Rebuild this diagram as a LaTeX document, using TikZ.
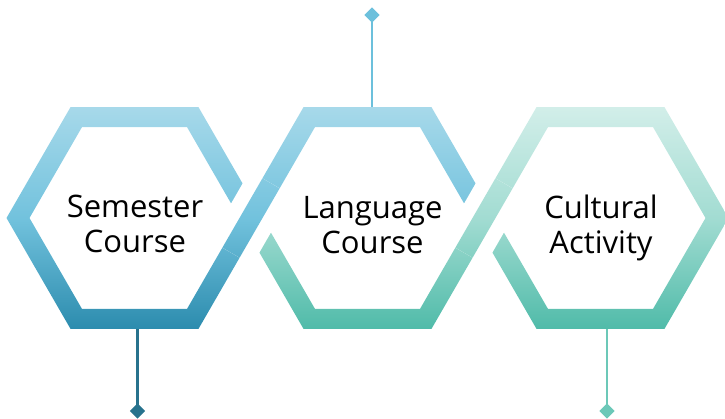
\documentclass[tikz,border=0pt]{standalone}
\usepackage{fontspec}
\setmainfont{Open Sans}
\usetikzlibrary{shapes.geometric}
\definecolor{bluetop}{HTML}{A7D9EA}
\definecolor{bluemid}{HTML}{72C2DD}
\definecolor{bluebot}{HTML}{2C8CAE}
\definecolor{tealtop}{HTML}{D2EEE9}
\definecolor{tealmid}{HTML}{A2DCD2}
\definecolor{tealbot}{HTML}{50BBA9}
\definecolor{lineTop}{HTML}{6CC0DC}
\definecolor{lineLeft}{HTML}{27728D}
\definecolor{lineRight}{HTML}{6CC8B8}
\begin{document}
\begin{tikzpicture}[x=1pt,y=-1pt,
  ringblue/.style={even odd rule, top color=bluetop, bottom color=bluebot, middle color=bluemid},
  ringteal/.style={even odd rule, top color=tealtop, bottom color=tealbot, middle color=tealmid},
  conn/.style={line width=2.7pt},
  dia/.style={diamond, aspect=1, minimum width=15.5pt, minimum height=15.5pt, inner sep=0pt, draw=none},
  lbl/.style={font=\fontsize{31}{35}\selectfont, align=center, inner sep=0pt, text=black}]
\useasboundingbox (0,0) rectangle (725,418);
\clip (0,0) rectangle (725,418);
% centres and crossings
\coordinate (c1) at (134.5,218);
\coordinate (c2) at (367.5,218);
\coordinate (c3) at (600.5,218);
\coordinate (x1) at (251,218);
\coordinate (x2) at (484,218);
% connectors with diamonds
\coordinate (h2top) at (372,116);
\coordinate (h1bot) at (137.5,320);
\coordinate (h3bot) at (607,320);
\node[dia, fill=lineTop] (d2) at (372,15) {};
\node[dia, fill=lineLeft] (d1) at (137.5,411) {};
\node[dia, fill=lineRight] (d3) at (607,411) {};
\draw[conn, draw=lineTop] (h2top) -- (d2.center);
\draw[conn, draw=lineLeft] (h1bot) -- (d1.center);
\draw[conn, draw=lineRight] (h3bot) -- (d3.center);
% rings
\shade[ringblue, shift={(c1)}] (0:128) -- (60:128) -- (120:128) -- (180:128) -- (240:128) -- (300:128) -- cycle
  (0:105) -- (60:105) -- (120:105) -- (180:105) -- (240:105) -- (300:105) -- cycle;
\begin{scope}
  \clip (0,0) rectangle (725,218);
  \shade[ringblue, shift={(c2)}] (0:128) -- (60:128) -- (120:128) -- (180:128) -- (240:128) -- (300:128) -- cycle
    (0:105) -- (60:105) -- (120:105) -- (180:105) -- (240:105) -- (300:105) -- cycle;
\end{scope}
\begin{scope}
  \clip (0,218) rectangle (725,418);
  \shade[ringteal, shift={(c2)}] (0:128) -- (60:128) -- (120:128) -- (180:128) -- (240:128) -- (300:128) -- cycle
    (0:105) -- (60:105) -- (120:105) -- (180:105) -- (240:105) -- (300:105) -- cycle;
\end{scope}
\shade[ringteal, shift={(c3)}] (0:128) -- (60:128) -- (120:128) -- (180:128) -- (240:128) -- (300:128) -- cycle
  (0:105) -- (60:105) -- (120:105) -- (180:105) -- (240:105) -- (300:105) -- cycle;
% gaps at the crossings
\fill[white, shift={(x1)}] (41.22,-22.39) -- (-1.22,-46.89) -- (-41.22,22.39) -- (1.22,46.89) -- cycle;
\fill[white, shift={(x2)}] (41.22,-22.39) -- (-1.22,-46.89) -- (-41.22,22.39) -- (1.22,46.89) -- cycle;
% over-bands
\begin{scope}[shift={(x1)}]
  \clip (28.63,-29.66) -- (11.37,-39.62) -- (-28.63,29.66) -- (-11.37,39.62) -- cycle;
  \shade[top color=bluetop, bottom color=bluebot, middle color=bluemid] (-300,-110.85) rectangle (300,110.85);
\end{scope}
\begin{scope}[shift={(x2)}]
  \clip (28.63,-29.66) -- (11.37,-39.62) -- (-28.63,29.66) -- (-11.37,39.62) -- cycle;
  \shade[top color=tealtop, bottom color=tealbot, middle color=tealmid] (-300,-110.85) rectangle (300,110.85);
\end{scope}
% labels
\node[lbl] (t1) at (135,224.2) {Semester\\Course};
\node[lbl] (t2) at (372.5,224.6) {Language\\Course};
\node[lbl] (t3) at (601,228.4) {Cultural\\Activity};
\end{tikzpicture}
\end{document}
